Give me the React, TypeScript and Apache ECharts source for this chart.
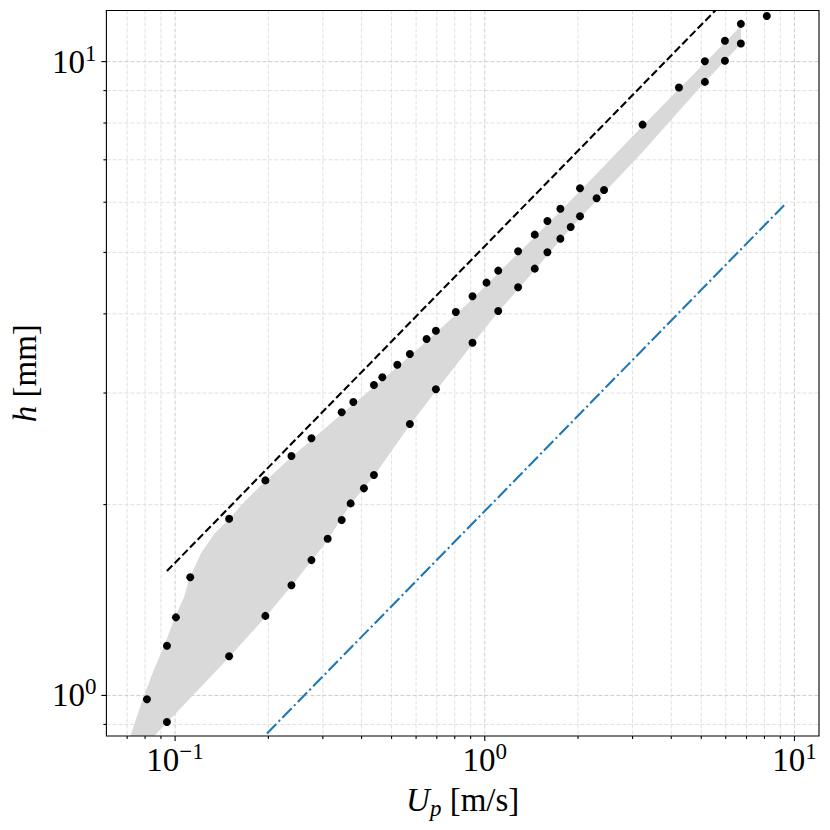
import React, { useEffect, useRef } from "react";
import * as echarts from "echarts";

// ---- scatter data (U_p in m/s, h in mm) ----
const upVals = [
  0.0811, 0.0941, 0.0941, 0.1006, 0.1119, 0.1494, 0.1494, 0.1957, 0.1957, 0.2375,
  0.2375, 0.2756, 0.2756, 0.311, 0.345, 0.345, 0.3688, 0.3763, 0.4072, 0.4386,
  0.4386, 0.4668, 0.5218, 0.573, 0.573, 0.6486, 0.695, 0.695, 0.8063, 0.9127,
  0.9127, 1.0127, 1.105, 1.105, 1.281, 1.281, 1.45, 1.45, 1.593, 1.593,
  1.754, 1.754, 1.894, 2.03, 2.03, 2.297, 2.427, 3.232, 4.236, 5.137,
  5.137, 5.962, 5.962, 6.712, 6.712, 8.141,
];
const hVals = [
  0.986, 0.908, 1.198, 1.328, 1.536, 1.153, 1.9, 1.335, 2.184, 1.492,
  2.386, 1.635, 2.545, 1.767, 1.891, 2.797, 2.009, 2.904, 2.122, 2.227,
  3.089, 3.177, 3.325, 3.457, 2.68, 3.65, 3.762, 3.041, 4.027, 4.264,
  3.602, 4.48, 4.68, 4.042, 5.022, 4.406, 5.333, 4.714, 5.606, 5.003,
  5.861, 5.256, 5.485, 6.313, 5.702, 6.088, 6.274, 7.954, 9.1, 10.01,
  9.29, 10.79, 10.03, 11.47, 10.68, 11.8,
];

// ---- shaded band (upper and lower edges) ----
const bandUpperU = [
  0.0674, 0.0717, 0.0786, 0.0848, 0.0922, 0.0999, 0.107, 0.1108, 0.1211, 0.1337,
  0.1494, 0.1692, 0.1957, 0.2375, 0.2756, 0.345, 0.4386, 0.573, 0.695, 0.9127,
  1.105, 1.45, 1.754, 2.03, 3.232, 4.236, 5.137, 6.712,
];
const bandUpperH = [
  0.79, 0.863, 0.986, 1.088, 1.198, 1.328, 1.431, 1.521, 1.675, 1.797,
  1.898, 2.033, 2.179, 2.377, 2.529, 2.78, 3.066, 3.432, 3.731, 4.222,
  4.64, 5.29, 5.813, 6.251, 7.915, 9.056, 9.953, 11.38,
];
const bandLowerU = [
  0.0723, 0.0856, 0.1211, 0.1494, 0.1957, 0.2375, 0.2756, 0.311, 0.3688, 0.4386,
  0.573, 0.695, 0.9127, 1.105, 1.45, 1.754, 2.03, 3.232, 5.137, 6.712,
];
const bandLowerH = [
  0.79, 0.863, 1.031, 1.149, 1.329, 1.488, 1.629, 1.759, 2.004, 2.219,
  2.671, 3.022, 3.584, 4.027, 4.691, 5.231, 5.666, 7.203, 9.29, 10.66,
];

// ---- reference lines ----
const dashU = [0.0941, 5.55];
const dashH = [1.571, 12.04];
const blueU = [0.198, 9.39];
const blueH = [0.871, 5.977];

// ---- axes ----
const X_MIN = 0.06;
const X_MAX = 12.0;
const Y_MIN = 0.863;
const Y_MAX = 12.04;
const xMajorTicks = [0.1, 1, 10];
const xMinorTicks = [0.07, 0.08, 0.09, 0.2, 0.3, 0.4, 0.5, 0.6, 0.7, 0.8, 0.9, 2, 3, 4, 5, 6, 7, 8, 9];
const yMajorTicks = [1, 10];
const yMinorTicks = [0.9, 2, 3, 4, 5, 6, 7, 8, 9];

const FONT = "Liberation Serif";

const tickFormatter = (v: number) => {
  const e = Math.log10(v);
  const r = Math.round(e);
  if (Math.abs(e - r) > 1e-6) return "";
  const exp = r < 0 ? "\u2212" + String(-r) : String(r);
  return "{b|10}{s|" + exp + "}";
};

const labelRich = {
  b: { fontFamily: FONT, fontSize: 33, lineHeight: 40, color: "#000" },
  s: { fontFamily: FONT, fontSize: 23, lineHeight: 19, verticalAlign: "top", color: "#000" },
};

export default function App() {
  const ref = useRef<HTMLDivElement>(null);

  useEffect(() => {
    if (!ref.current) return;
    const chart = echarts.init(ref.current, null, { renderer: "svg" });

    const scatterData = upVals.map((u, i) => [u, hVals[i]]);
    const dashData = dashU.map((u, i) => [u, dashH[i]]);
    const blueData = blueU.map((u, i) => [u, blueH[i]]);

    const option: any = {
      animation: false,
      backgroundColor: "#fff",
      grid: { left: 105.5, right: 11, top: 10.5, bottom: 94, containLabel: false },
      xAxis: {
        type: "log",
        logBase: 10,
        min: X_MIN,
        max: X_MAX,
        axisLine: { show: false },
        axisTick: { show: false },
        splitLine: { show: false },
        minorTick: { show: false },
        minorSplitLine: { show: false },
        axisLabel: { formatter: tickFormatter, margin: 4, rich: labelRich },
        name: "{i|U}{sub|p}{r| [m/s]}",
        nameLocation: "middle",
        nameGap: 44,
        nameTextStyle: {
          fontFamily: FONT,
          fontSize: 33,
          color: "#000",
          rich: {
            i: { fontFamily: FONT, fontStyle: "italic", fontSize: 33, lineHeight: 40, color: "#000" },
            sub: { fontFamily: FONT, fontStyle: "italic", fontSize: 23, lineHeight: 25, verticalAlign: "bottom", color: "#000" },
            r: { fontFamily: FONT, fontSize: 33, lineHeight: 40, color: "#000" },
          },
        },
      },
      yAxis: {
        type: "log",
        logBase: 10,
        min: Y_MIN,
        max: Y_MAX,
        axisLine: { show: false },
        axisTick: { show: false },
        splitLine: { show: false },
        minorTick: { show: false },
        minorSplitLine: { show: false },
        axisLabel: { formatter: tickFormatter, margin: 10, rich: labelRich },
        name: "{i|h}{r| [mm]}",
        nameLocation: "middle",
        nameGap: 58,
        nameRotate: 90,
        nameTextStyle: {
          fontFamily: FONT,
          fontSize: 33,
          color: "#000",
          rich: {
            i: { fontFamily: FONT, fontStyle: "italic", fontSize: 33, lineHeight: 40, color: "#000" },
            r: { fontFamily: FONT, fontSize: 33, lineHeight: 40, color: "#000" },
          },
        },
      },
      series: [
        {
          type: "custom",
          name: "grid",
          coordinateSystem: "cartesian2d",
          data: [[1, 1]],
          clip: false,
          silent: true,
          z: 1,
          renderItem: (params: any, api: any) => {
            const cs = params.coordSys;
            const x0 = cs.x, y0 = cs.y, x1 = cs.x + cs.width, y1 = cs.y + cs.height;
            const children: any[] = [];
            const vline = (v: number, color: string) => {
              const x = api.coord([v, 1])[0];
              children.push({
                type: "line",
                shape: { x1: x, y1: y0, x2: x, y2: y1 },
                style: { stroke: color, lineWidth: 0.9, lineDash: [4, 2] },
              });
            };
            const hline = (v: number, color: string) => {
              const y = api.coord([1, v])[1];
              children.push({
                type: "line",
                shape: { x1: x0, y1: y, x2: x1, y2: y },
                style: { stroke: color, lineWidth: 0.9, lineDash: [4, 2] },
              });
            };
            xMinorTicks.forEach((v) => vline(v, "#dddddd"));
            yMinorTicks.forEach((v) => hline(v, "#dddddd"));
            xMajorTicks.forEach((v) => vline(v, "#c8c8c8"));
            yMajorTicks.forEach((v) => hline(v, "#c8c8c8"));
            return { type: "group", children };
          },
        },
        {
          type: "custom",
          name: "band",
          coordinateSystem: "cartesian2d",
          data: [[1, 1]],
          clip: true,
          silent: true,
          z: 2,
          renderItem: (params: any, api: any) => {
            const pts: number[][] = [];
            bandUpperU.forEach((u, i) => pts.push(api.coord([u, bandUpperH[i]])));
            for (let i = bandLowerU.length - 1; i >= 0; i--) {
              pts.push(api.coord([bandLowerU[i], bandLowerH[i]]));
            }
            return {
              type: "polygon",
              shape: { points: pts },
              style: { fill: "#d9d9d9", stroke: "none" },
            };
          },
        },
        {
          type: "line",
          name: "dashed",
          data: dashData,
          showSymbol: false,
          clip: true,
          z: 3,
          lineStyle: { color: "#000", width: 2.1, type: [7.7, 3.3] },
        },
        {
          type: "line",
          name: "dashdot",
          data: blueData,
          showSymbol: false,
          clip: true,
          z: 3,
          lineStyle: { color: "#1f77b4", width: 2.1, type: [13.3, 3.3, 2.1, 3.3] },
        },
        {
          type: "scatter",
          name: "points",
          data: scatterData,
          symbol: "circle",
          symbolSize: 8,
          z: 4,
          itemStyle: { color: "#000", opacity: 1 },
        },
        {
          type: "custom",
          name: "frame",
          coordinateSystem: "cartesian2d",
          data: [[1, 1]],
          clip: false,
          silent: true,
          z: 5,
          renderItem: (params: any, api: any) => {
            const cs = params.coordSys;
            const x0 = cs.x, y0 = cs.y, x1 = cs.x + cs.width, y1 = cs.y + cs.height;
            const children: any[] = [];
            const st = { stroke: "#000", lineWidth: 1.1 };
            xMajorTicks.forEach((v) => {
              const x = api.coord([v, 1])[0];
              children.push({ type: "line", shape: { x1: x, y1: y1, x2: x, y2: y1 + 5 }, style: st });
            });
            xMinorTicks.forEach((v) => {
              const x = api.coord([v, 1])[0];
              children.push({ type: "line", shape: { x1: x, y1: y1, x2: x, y2: y1 + 3 }, style: st });
            });
            yMajorTicks.forEach((v) => {
              const y = api.coord([1, v])[1];
              children.push({ type: "line", shape: { x1: x0 - 5, y1: y, x2: x0, y2: y }, style: st });
            });
            yMinorTicks.forEach((v) => {
              const y = api.coord([1, v])[1];
              children.push({ type: "line", shape: { x1: x0 - 3, y1: y, x2: x0, y2: y }, style: st });
            });
            children.push({
              type: "rect",
              shape: { x: x0, y: y0, width: x1 - x0, height: y1 - y0 },
              style: { fill: "none", stroke: "#000", lineWidth: 1.1 },
            });
            return { type: "group", children };
          },
        },
      ],
    };

    chart.setOption(option);
    return () => chart.dispose();
  }, []);

  return (
    <div
      ref={ref}
      style={{ position: "fixed", left: 0, top: 0, width: 830, height: 830, background: "#fff" }}
    />
  );
}
